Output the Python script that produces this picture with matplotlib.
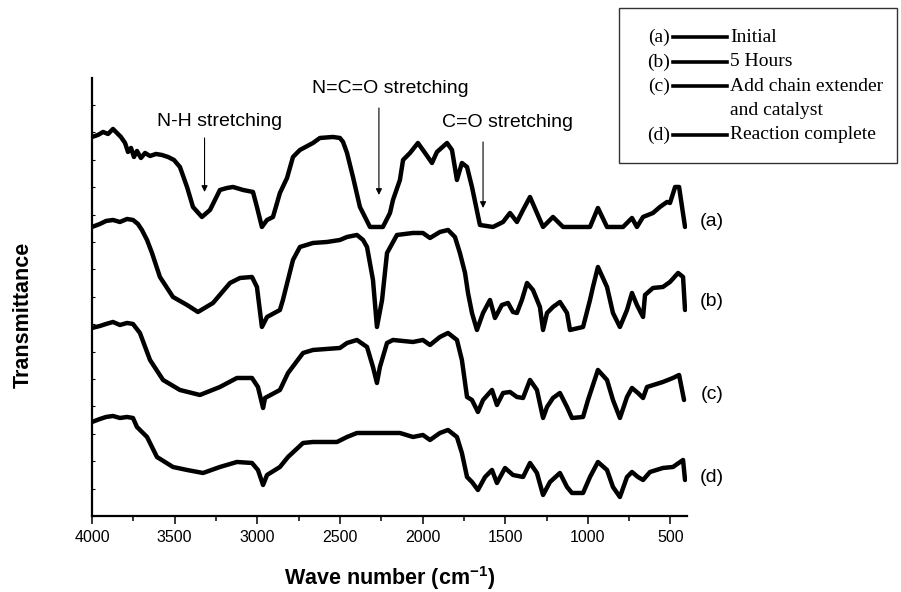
#!/usr/bin/env python3
"""
FTIR spectra of the polyurethane reaction at four stages, stacked with offsets.
Writes out.png (901x592).
"""

import matplotlib
matplotlib.use("Agg")
import matplotlib.pyplot as plt
from matplotlib.lines import Line2D
from matplotlib.patches import Rectangle
from matplotlib.ticker import MultipleLocator

plt.rcParams["font.family"] = ["Liberation Sans", "DejaVu Sans"]
plt.rcParams["mathtext.fontset"] = "custom"
plt.rcParams["mathtext.rm"] = "Liberation Sans"
plt.rcParams["mathtext.bf"] = "Liberation Sans:bold"

# ───────────────────────────────────────────────────────────────
# Data: wavenumber (cm-1) and offset transmittance (a.u.) per spectrum
# ───────────────────────────────────────────────────────────────

wn_a = [4000, 3964, 3933, 3903, 3873, 3849, 3825, 3800, 3782, 3764, 3746, 3728,
        3704, 3679, 3649, 3613, 3577, 3540, 3504, 3468, 3425, 3389, 3335, 3286,
        3226, 3183, 3147, 3086, 3026, 3002, 2972, 2941, 2905, 2863, 2820, 2784,
        2742, 2663, 2621, 2542, 2500, 2481, 2457, 2421, 2379, 2318, 2240, 2197,
        2179, 2137, 2118, 2076, 2028, 1985, 1943, 1913, 1852, 1822, 1792, 1762,
        1731, 1701, 1653, 1574, 1513, 1471, 1429, 1392, 1350, 1308, 1271, 1211,
        1150, 987, 939, 884, 787, 733, 703, 666, 606, 564, 521, 503, 472, 448,
        430, 412]
tr_a = [379, 381, 384, 382, 387, 383, 379, 373, 364, 368, 359, 365,
        358, 363, 360, 362, 361, 359, 356, 349, 329, 309, 299, 306,
        326, 328, 329, 326, 324, 309, 289, 296, 299, 323, 338, 359,
        366, 373, 378, 379, 378, 374, 363, 339, 309, 289, 289, 303,
        316, 336, 356, 363, 373, 363, 353, 364, 373, 366, 336, 353,
        349, 329, 291, 289, 294, 303, 294, 306, 319, 303, 289, 299,
        289, 289, 308, 289, 289, 298, 289, 299, 303, 309, 314, 313, 329, 329,
        309, 289]

wn_b = [4000, 3952, 3915, 3873, 3831, 3788, 3752, 3722, 3698, 3667, 3637, 3589,
        3510, 3425, 3359, 3268, 3165, 3105, 3032, 3002, 2972, 2941, 2863, 2845,
        2784, 2742, 2663, 2578, 2500, 2457, 2397, 2360, 2336, 2300, 2276, 2245,
        2215, 2155, 2058, 1998, 1955, 1895, 1846, 1804, 1774, 1743, 1725, 1701,
        1671, 1634, 1592, 1562, 1520, 1483, 1453, 1429, 1399, 1368, 1332, 1290,
        1271, 1247, 1211, 1169, 1126, 1108, 1029, 987, 969, 939, 884, 848, 806,
        763, 733, 703, 666, 654, 606, 546, 503, 454, 424, 412]
tr_b = [289, 292, 295, 296, 294, 297, 296, 292, 286, 276, 263, 239,
        219, 211, 204, 213, 233, 238, 239, 229, 189, 199, 206, 216,
        256, 269, 273, 274, 276, 279, 281, 276, 269, 236, 189, 216,
        263, 281, 283, 283, 278, 284, 286, 279, 263, 243, 223, 203,
        186, 203, 216, 198, 211, 213, 204, 203, 216, 233, 226, 209,
        186, 203, 209, 214, 203, 186, 189, 216, 229, 249, 229, 203, 189,
        206, 223, 211, 199, 221, 228, 229, 234, 243, 239, 206]

wn_c = [4000, 3952, 3915, 3873, 3831, 3788, 3752, 3710, 3649, 3570, 3468, 3347,
        3226, 3123, 3032, 2996, 2965, 2953, 2863, 2814, 2723, 2663, 2500, 2457,
        2397, 2336, 2300, 2276, 2258, 2215, 2179, 2058, 1998, 1955, 1895, 1846,
        1792, 1762, 1731, 1701, 1665, 1634, 1580, 1550, 1513, 1471, 1429, 1392,
        1350, 1308, 1271, 1247, 1211, 1169, 1126, 1096, 1029, 999, 939, 884,
        848, 806, 763, 733, 697, 666, 642, 546, 485, 448, 418]
tr_c = [188, 190, 192, 194, 191, 193, 192, 183, 156, 136, 126, 121,
        129, 138, 138, 129, 108, 118, 126, 143, 163, 166, 168, 173,
        176, 169, 149, 133, 149, 173, 176, 174, 176, 171, 179, 183,
        176, 156, 119, 116, 104, 116, 126, 111, 123, 124, 119, 118,
        136, 126, 98, 109, 118, 123, 109, 98, 99, 116, 146, 136,
        116, 98, 119, 128, 123, 118, 129, 134, 138, 141, 116]

wn_d = [4000, 3952, 3915, 3873, 3831, 3788, 3752, 3728, 3667, 3607, 3510, 3425,
        3328, 3226, 3123, 3032, 2996, 2965, 2941, 2863, 2814, 2723, 2663, 2518,
        2457, 2397, 2137, 2058, 1998, 1955, 1895, 1846, 1792, 1762, 1731, 1701,
        1665, 1622, 1580, 1550, 1501, 1453, 1392, 1350, 1308, 1271, 1229, 1169,
        1126, 1096, 1029, 987, 939, 884, 848, 806, 763, 733, 697, 666, 624,
        546, 485, 424, 412]
tr_d = [94, 97, 99, 100, 98, 99, 98, 89, 79, 59, 49, 46,
        43, 49, 54, 53, 46, 31, 41, 49, 59, 73, 74, 74,
        79, 83, 83, 79, 81, 76, 83, 86, 79, 63, 39, 34,
        26, 39, 46, 33, 48, 41, 39, 53, 43, 21, 34, 43,
        29, 23, 23, 39, 54, 46, 29, 19, 39, 44, 39, 36, 44,
        48, 49, 56, 36]

curve_tags = ["(a)", "(b)", "(c)", "(d)"]
tag_y = [294, 214, 121, 38]

legend_names = ["Initial", "5 Hours", "Add chain extender\nand catalyst",
                "Reaction complete"]

peak_labels = ["N-H stretching", "N=C=O stretching", "C=O stretching"]
peak_wn = [3319, 2264, 1634]          # where the arrows point
peak_label_wn = [3226, 2194, 1486]    # label centres
peak_label_y = [390, 423, 389]
arrow_top = [378, 408, 374]
arrow_tip = [324, 321, 308]


def draw_legend(fig):
    """Boxed legend in the top right corner: '(x) ——— name'."""
    fig.patches.append(Rectangle((0.687, 0.7247), 0.3086, 0.2618,
                                 transform=fig.transFigure, fill=False,
                                 edgecolor="#333333", lw=1.0))
    rows = [0.9375, 0.8953, 0.8547, 0.7720]
    for tag, name, y in zip(curve_tags, legend_names, rows):
        fig.text(0.7436, y, tag, ha="right", va="center",
                 family="Liberation Serif", fontsize=14)
        fig.lines.append(Line2D([0.7470, 0.8070], [y, y], color="black",
                                lw=2.6, transform=fig.transFigure))
        if "\n" in name:
            # two-line entry: second line sits on its own row
            first, second = name.split("\n")
            fig.text(0.8100, y, first, ha="left", va="center",
                     family="Liberation Serif", fontsize=14)
            fig.text(0.8100, y - 0.0410, second, ha="left", va="center",
                     family="Liberation Serif", fontsize=14)
        else:
            fig.text(0.8100, y, name, ha="left", va="center",
                     family="Liberation Serif", fontsize=14)


def main():
    fig = plt.figure(figsize=(9.01, 5.92), dpi=100)
    ax = fig.add_axes([0.1021, 0.1284, 0.6604, 0.7399])

    for wn, tr in [(wn_a, tr_a), (wn_b, tr_b), (wn_c, tr_c), (wn_d, tr_d)]:
        ax.plot(wn, tr, color="black", lw=3.2, solid_joinstyle="round",
                solid_capstyle="round")

    for tag, y in zip(curve_tags, tag_y):
        ax.text(249, y, tag, ha="center", va="center", fontsize=14,
                clip_on=False)

    for lab, wx, lx, ly, y0, y1 in zip(peak_labels, peak_wn, peak_label_wn,
                                       peak_label_y, arrow_top, arrow_tip):
        ax.text(lx, ly, lab, ha="center", va="baseline", fontsize=14)
        ax.annotate("", xy=(wx, y1), xytext=(wx, y0),
                    arrowprops=dict(arrowstyle="-|>", color="black", lw=0.8,
                                    mutation_scale=9, shrinkA=0, shrinkB=0))

    ax.set_xlim(4000, 400)
    ax.set_ylim(0, 438)
    ax.xaxis.set_major_locator(MultipleLocator(500))
    ax.xaxis.set_minor_locator(MultipleLocator(250))
    ax.yaxis.set_major_locator(MultipleLocator(27.4))
    ax.set_yticklabels([])
    ax.tick_params(axis="x", which="major", direction="out", length=6,
                   width=1.1, pad=4, labelsize=11.5)
    ax.tick_params(axis="x", which="minor", direction="out", length=3.5,
                   width=1.1)
    ax.tick_params(axis="y", which="major", direction="in", length=2.5,
                   width=0.8)

    for side in ("top", "right"):
        ax.spines[side].set_visible(False)
    for side in ("left", "bottom"):
        ax.spines[side].set_linewidth(1.6)

    ax.set_xlabel(r"Wave number (cm$^{\mathbf{-1}}$)", fontsize=15.5,
                  fontweight="bold", va="center")
    ax.xaxis.set_label_coords(0.5, -0.142)
    ax.set_ylabel("Transmittance", fontsize=15.5, fontweight="bold",
                  va="center")
    ax.yaxis.set_label_coords(-0.116, 0.46)

    draw_legend(fig)

    fig.savefig("out.png", dpi=100)
    plt.close(fig)


if __name__ == "__main__":
    main()
